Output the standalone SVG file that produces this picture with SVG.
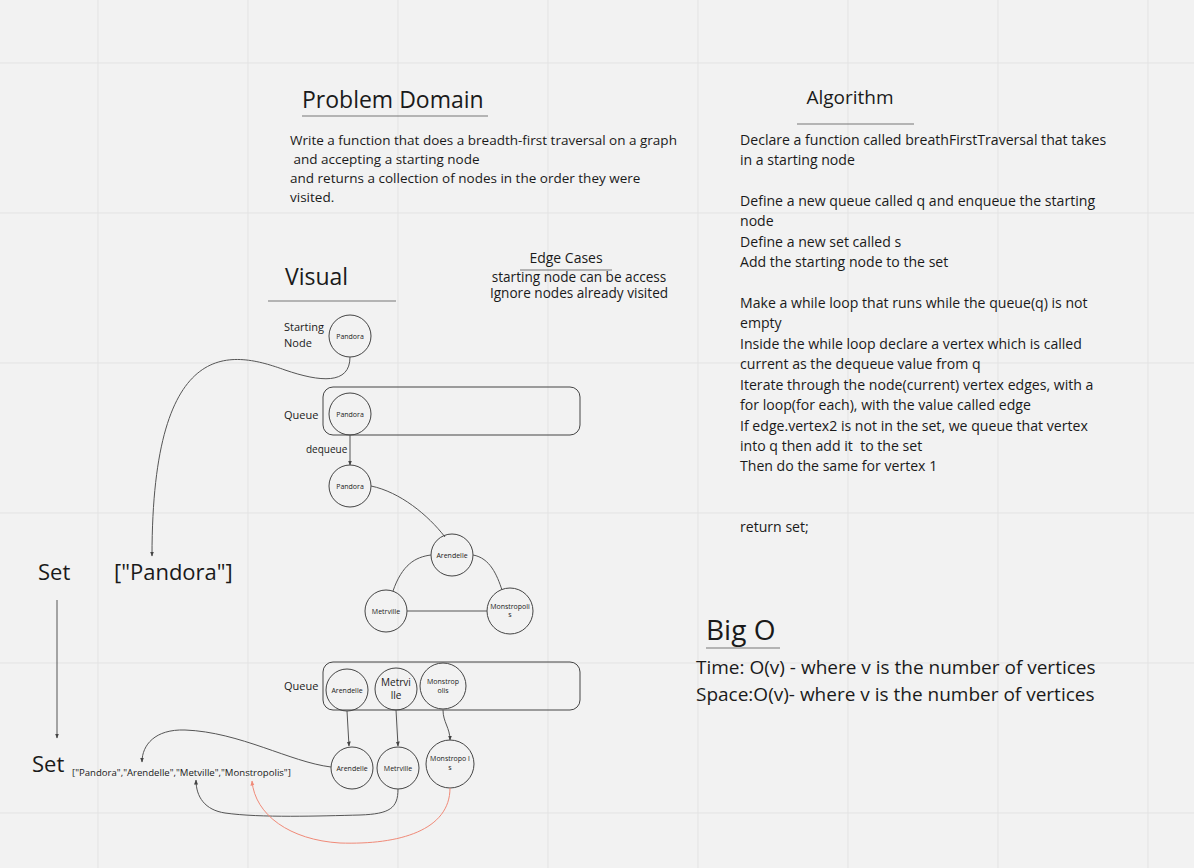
<svg xmlns="http://www.w3.org/2000/svg" width="1194" height="868" viewBox="0 0 1194 868">
<style>
text{font-family:"Open Sans","Noto Sans","Liberation Sans",sans-serif;fill:#1a1a1a}
.grid line{stroke:#e3e3e3;stroke-width:1}
.ul{stroke:#777;stroke-width:1}
.n{fill:none;stroke:#444;stroke-width:1}
.c{fill:none;stroke:#555;stroke-width:1}
.r{fill:none;stroke:#f08a78;stroke-width:1}
.t7{font-size:7px;text-anchor:middle}
.t10{font-size:10px}
.lab{font-size:11px}
.body{font-size:13.5px}
.alg{font-size:14.1px}
</style>
<defs>
<marker id="ah" viewBox="0 0 10 10" refX="9" refY="5" markerWidth="5" markerHeight="5" orient="auto"><path d="M0,1 L10,5 L0,9 z" fill="#444"/></marker>
<marker id="ahr" viewBox="0 0 10 10" refX="9" refY="5" markerWidth="5" markerHeight="5" orient="auto"><path d="M0,1 L10,5 L0,9 z" fill="#f08a78"/></marker>
</defs>
<rect width="1194" height="868" fill="#f2f2f2"/>
<g class="grid">
<line x1="98" y1="0" x2="98" y2="868"/><line x1="248" y1="0" x2="248" y2="868"/><line x1="398" y1="0" x2="398" y2="868"/><line x1="548" y1="0" x2="548" y2="868"/><line x1="698" y1="0" x2="698" y2="868"/><line x1="848" y1="0" x2="848" y2="868"/><line x1="998" y1="0" x2="998" y2="868"/><line x1="1148" y1="0" x2="1148" y2="868"/>
<line x1="0" y1="63" x2="1194" y2="63"/><line x1="0" y1="213" x2="1194" y2="213"/><line x1="0" y1="363" x2="1194" y2="363"/><line x1="0" y1="513" x2="1194" y2="513"/><line x1="0" y1="663" x2="1194" y2="663"/><line x1="0" y1="813" x2="1194" y2="813"/>
</g>

<g id="problem-domain">
<text x="302" y="108" font-size="23">Problem Domain</text>
<line class="ul" x1="302" y1="116" x2="488" y2="116"/>
<text class="body" x="290" y="145">Write a function that does a breadth-first traversal on a graph</text>
<text class="body" x="290" y="164" xml:space="preserve"> and accepting a starting node</text>
<text class="body" x="290" y="183">and returns a collection of nodes in the order they were</text>
<text class="body" x="290" y="202">visited.</text>
</g>

<g id="algorithm">
<text x="850" y="104" font-size="19" text-anchor="middle">Algorithm</text>
<line class="ul" x1="797" y1="124" x2="914" y2="124"/>
<text class="alg" x="740" y="145">Declare a function called breathFirstTraversal that takes</text>
<text class="alg" x="740" y="165">in a starting node</text>
<text class="alg" x="740" y="206">Define a new queue called q and enqueue the starting</text>
<text class="alg" x="740" y="226">node</text>
<text class="alg" x="740" y="247">Define a new set called s</text>
<text class="alg" x="740" y="267">Add the starting node to the set</text>
<text class="alg" x="740" y="308">Make a while loop that runs while the queue(q) is not</text>
<text class="alg" x="740" y="328">empty</text>
<text class="alg" x="740" y="349">Inside the while loop declare a vertex which is called</text>
<text class="alg" x="740" y="369">current as the dequeue value from q</text>
<text class="alg" x="740" y="390">Iterate through the node(current) vertex edges, with a</text>
<text class="alg" x="740" y="410">for loop(for each), with the value called edge</text>
<text class="alg" x="740" y="431" xml:space="preserve">If edge.vertex2 is not in the set, we queue that vertex</text>
<text class="alg" x="740" y="451" xml:space="preserve">into q then add it  to the set</text>
<text class="alg" x="740" y="471">Then do the same for vertex 1</text>
<text class="alg" x="740" y="532">return set;</text>
</g>

<g id="edge-cases">
<text x="566" y="263" font-size="14" text-anchor="middle">Edge Cases</text>
<line class="ul" x1="520" y1="270" x2="612" y2="270"/>
<text x="579" y="282" font-size="13.6" text-anchor="middle">starting node can be access</text>
<text x="579" y="298" font-size="13.6" text-anchor="middle">Ignore nodes already visited</text>
</g>

<g id="visual">
<text x="285" y="285" font-size="23">Visual</text>
<line class="ul" x1="268" y1="301" x2="396" y2="301"/>
</g>

<g id="big-o">
<text x="706" y="640" font-size="28">Big O</text>
<line class="ul" x1="706" y1="648" x2="780" y2="648"/>
<text x="696" y="674" font-size="19">Time: O(v) - where v is the number of vertices</text>
<text x="696" y="701" font-size="19">Space:O(v)- where v is the number of vertices</text>
</g>

<g id="labels">
<text class="lab" x="284" y="331">Starting</text>
<text class="lab" x="284" y="347">Node</text>
<text class="lab" x="284" y="419">Queue</text>
<text class="t10" x="306" y="453">dequeue</text>
<text class="lab" x="284" y="690">Queue</text>
<text x="38" y="580" font-size="22">Set</text>
<text x="114" y="580" font-size="22">["Pandora"]</text>
<text x="32" y="772" font-size="22">Set</text>
<text x="72" y="776" font-size="9.6">["Pandora","Arendelle","Metville","Monstropolis"]</text>
</g>

<g id="queue-box-1"><rect class="n" x="323" y="387" width="257" height="48" rx="10"/></g>
<g id="queue-box-2"><rect class="n" x="323" y="662" width="257" height="48" rx="10"/></g>

<g id="start-pandora"><circle class="n" cx="350" cy="336" r="21"/><text class="t7" x="350" y="338.5">Pandora</text></g>
<g id="queue-pandora"><circle class="n" cx="350" cy="414" r="21"/><text class="t7" x="350" y="416.5">Pandora</text></g>
<g id="pandora"><circle class="n" cx="350" cy="486" r="21"/><text class="t7" x="350" y="488.5">Pandora</text></g>
<g id="arendelle"><circle class="n" cx="452" cy="555" r="21"/><text class="t7" x="452" y="557.5">Arendelle</text></g>
<g id="metrville"><circle class="n" cx="386" cy="611" r="21"/><text class="t7" x="386" y="613.5">Metrville</text></g>
<g id="monstropolis"><circle class="n" cx="510" cy="611" r="23"/><text class="t7" x="510" y="609">Monstropoli</text><text class="t7" x="510" y="617">s</text></g>

<g id="q2-arendelle"><circle class="n" cx="347" cy="690" r="21"/><text class="t7" x="347" y="692.5">Arendelle</text></g>
<g id="q2-metrville"><circle class="n" cx="396" cy="689" r="21"/><text x="396" y="686" font-size="10" text-anchor="middle">Metrvi</text><text x="396" y="699" font-size="10" text-anchor="middle">lle</text></g>
<g id="q2-monstropolis"><circle class="n" cx="443" cy="686" r="23"/><text class="t7" x="443" y="684">Monstrop</text><text class="t7" x="443" y="693">olis</text></g>

<g id="s-arendelle"><circle class="n" cx="352" cy="768" r="21"/><text class="t7" x="352" y="770.5">Arendelle</text></g>
<g id="s-metrville"><circle class="n" cx="398" cy="768" r="21"/><text class="t7" x="398" y="770.5">Metrville</text></g>
<g id="s-monstropolis"><circle class="n" cx="450" cy="764" r="24"/><text class="t7" x="450" y="761">Monstropo l</text><text class="t7" x="450" y="770">s</text></g>

<g id="connectors">
<path class="c" d="M350,357 C350,385 320,382 285,370 C235,352 152,330 152,556" marker-end="url(#ah)"/>
<path class="c" d="M350,435 L350,465" marker-end="url(#ah)"/>
<path class="c" d="M371,486 C400,492 428,515 445,537"/>
<path class="c" d="M393,591 C402,565 415,557 431,555"/>
<path class="c" d="M473,555 C490,558 497,575 502,590"/>
<path class="c" d="M407,611 L487,611"/>
<path class="c" d="M57,600 L57,738" marker-end="url(#ah)"/>
<path class="c" d="M347,711 L349,746" marker-end="url(#ah)"/>
<path class="c" d="M396,710 L398,746" marker-end="url(#ah)"/>
<path class="c" d="M443,710 C443,722 450,728 450,740" marker-end="url(#ah)"/>
<path class="c" d="M331,767 C290,762 240,732 185,730 C155,729 142,745 142,762" marker-end="url(#ah)"/>
<path class="c" d="M398,789 C398,808 390,814 360,815 C320,816 260,818 225,813 C205,810 196,797 196,780" marker-end="url(#ah)"/>
<path class="r" d="M450,788 C450,830 400,845 340,843 C290,840 255,815 252,781" marker-end="url(#ahr)"/>
</g>
</svg>
